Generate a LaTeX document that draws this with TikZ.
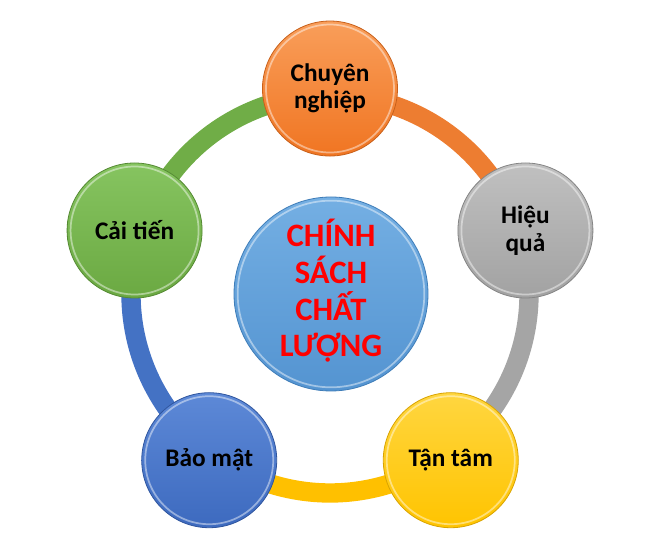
\documentclass[tikz,border=0pt]{standalone}
\usepackage{fontspec}
\setmainfont{Carlito}
\usetikzlibrary{calc}
\definecolor{bandOrange}{HTML}{ED7D31}
\definecolor{bandGray}{HTML}{A5A5A5}
\definecolor{bandYellow}{HTML}{FFC000}
\definecolor{bandBlue}{HTML}{4472C4}
\definecolor{bandGreen}{HTML}{70AD47}
\definecolor{orTop}{HTML}{F99E5A}
\definecolor{orBot}{HTML}{F07522}
\definecolor{orEdge}{HTML}{C8601A}
\definecolor{grTop}{HTML}{C0C0C0}
\definecolor{grBot}{HTML}{A2A2A2}
\definecolor{grEdge}{HTML}{858585}
\definecolor{ylTop}{HTML}{FFD640}
\definecolor{ylBot}{HTML}{FFC400}
\definecolor{ylEdge}{HTML}{D9A300}
\definecolor{blTop}{HTML}{5D89D7}
\definecolor{blBot}{HTML}{3D6ABF}
\definecolor{blEdge}{HTML}{2F559E}
\definecolor{gnTop}{HTML}{86C460}
\definecolor{gnBot}{HTML}{6BA942}
\definecolor{gnEdge}{HTML}{558A33}
\definecolor{ceTop}{HTML}{74AFE3}
\definecolor{ceBot}{HTML}{5494D1}
\definecolor{ceEdge}{HTML}{3F7DB8}
\definecolor{titleRed}{HTML}{FF0000}
\tikzset{
  band/.style={line width=14.5pt, line cap=butt},
  bubble/.style={circle, minimum size=101.25pt, inner sep=0pt, outer sep=0pt,
    align=center, text=black, line width=0.6pt,
    font=\bfseries\fontsize{19}{20.5}\selectfont},
  hub/.style={circle, minimum size=145.5pt, inner sep=0pt, outer sep=0pt, line width=0.6pt},
  hubtext/.style={align=center, text=titleRed, inner sep=0pt,
    font=\bfseries\fontsize{24.5}{27.5}\selectfont},
  rim/.style={white, opacity=0.45, line width=1.3pt}
}
\begin{document}
\begin{tikzpicture}[x=0.75pt,y=0.75pt]
\useasboundingbox (0,0) rectangle (661,548);
\coordinate (c) at (330,254);
% ring
\draw[band, bandOrange] (c) ++(90:149.25pt) arc[start angle=90, end angle=18, radius=149.25pt];
\draw[band, bandGray] (c) ++(18:149.25pt) arc[start angle=18, end angle=-54, radius=149.25pt];
\draw[band, bandYellow] (c) ++(-54:149.25pt) arc[start angle=-54, end angle=-126, radius=149.25pt];
\draw[band, bandBlue] (c) ++(-126:149.25pt) arc[start angle=-126, end angle=-198, radius=149.25pt];
\draw[band, bandGreen] (c) ++(162:149.25pt) arc[start angle=162, end angle=90, radius=149.25pt];
% hub
\node[hub, top color=ceTop, bottom color=ceBot, draw=ceEdge] (hub) at ($(c)+(1,0)$) {};
\draw[rim] (hub.center) circle[radius=70pt];
\node[hubtext] (title) at ($(hub.center)+(0,3)$) {CHÍNH\\SÁCH\\CHẤT\\LƯỢNG};
% outer bubbles
\node[bubble, top color=orTop, bottom color=orBot, draw=orEdge] (n1) at ($(c)+(90:154.1pt)$) {Chuyên\\nghiệp};
\node[bubble, top color=grTop, bottom color=grBot, draw=grEdge] (n2) at ($(c)+(18:154.1pt)$) {Hiệu\\quả};
\node[bubble, top color=ylTop, bottom color=ylBot, draw=ylEdge] (n3) at ($(c)+(-54:154.1pt)$) {Tận tâm};
\node[bubble, top color=blTop, bottom color=blBot, draw=blEdge] (n4) at ($(c)+(-126:154.1pt)$) {Bảo mật};
\node[bubble, top color=gnTop, bottom color=gnBot, draw=gnEdge] (n5) at ($(c)+(162:154.1pt)$) {Cải tiến};
\foreach \n in {n1,n2,n3,n4,n5}{
  \draw[rim] (\n.center) circle[radius=48pt];
}
\end{tikzpicture}
\end{document}
